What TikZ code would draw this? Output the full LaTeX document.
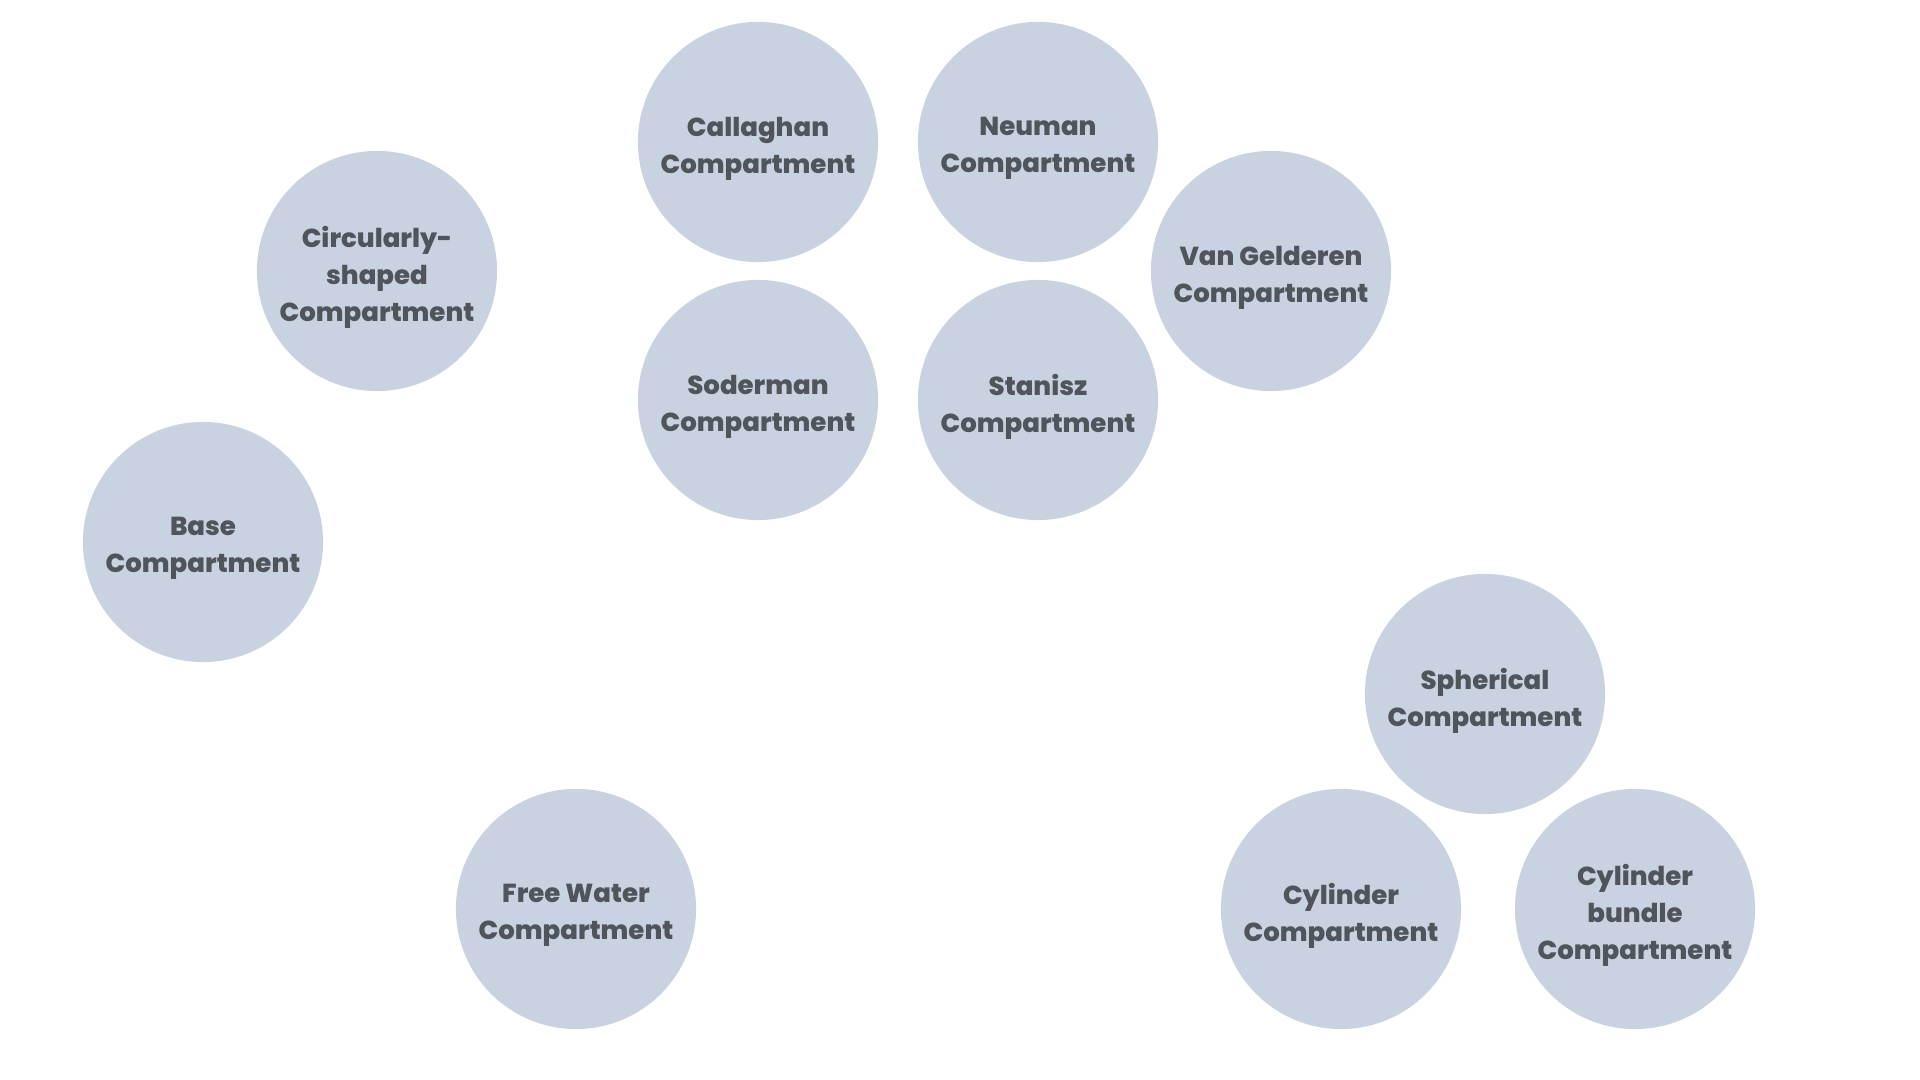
\documentclass[tikz,border=0pt]{standalone}
\usepackage{fontspec}
\setmainfont{Poppins}[BoldFont={* ExtraBold}]
\usetikzlibrary{positioning}
\definecolor{cfill}{HTML}{C8D2E0}
\definecolor{ctext}{HTML}{50545B}
\tikzset{
  every picture/.style={font=\bfseries},
  comp/.style={circle, fill=cfill, minimum size=2.4cm, inner sep=0pt},
  comptext/.style={align=center, text=ctext, yshift=-0.065cm,
    font=\bfseries\fontsize{7.4}{10.5}\selectfont},
}
\begin{document}
\begin{tikzpicture}[x=0.01cm, y=-0.01cm]
  \useasboundingbox (0,0) rectangle (1920,1080);
  % top cluster
  \node[comp, label={[comptext]center:Callaghan\\Compartment}] (callaghan) at (758,142) {};
  \node[comp, label={[comptext]center:Neuman\\Compartment}] (neuman) at (1038,142) {};
  \node[comp, label={[comptext]center:Soderman\\Compartment}] (soderman) at (758,400) {};
  \node[comp, label={[comptext]center:Stanisz\\Compartment}] (stanisz) at (1038,400) {};
  \node[comp, label={[comptext]center:Van Gelderen\\Compartment}] (vangelderen) at (1271,271) {};
  % left side
  \node[comp, label={[comptext]center:Circularly-\\shaped\\Compartment}] (circular) at (377,271) {};
  \node[comp, label={[comptext]center:Base\\Compartment}] (base) at (203,542) {};
  \node[comp, label={[comptext]center:Free Water\\Compartment}] (freewater) at (576,909) {};
  % bottom right cluster
  \node[comp, label={[comptext]center:Spherical\\Compartment}] (spherical) at (1485,694) {};
  \node[comp, label={[comptext]center:Cylinder\\Compartment}] (cylinder) at (1341,909) {};
  \node[comp, label={[comptext]center:Cylinder\\bundle\\Compartment}] (bundle) at (1635,909) {};
\end{tikzpicture}
\end{document}
